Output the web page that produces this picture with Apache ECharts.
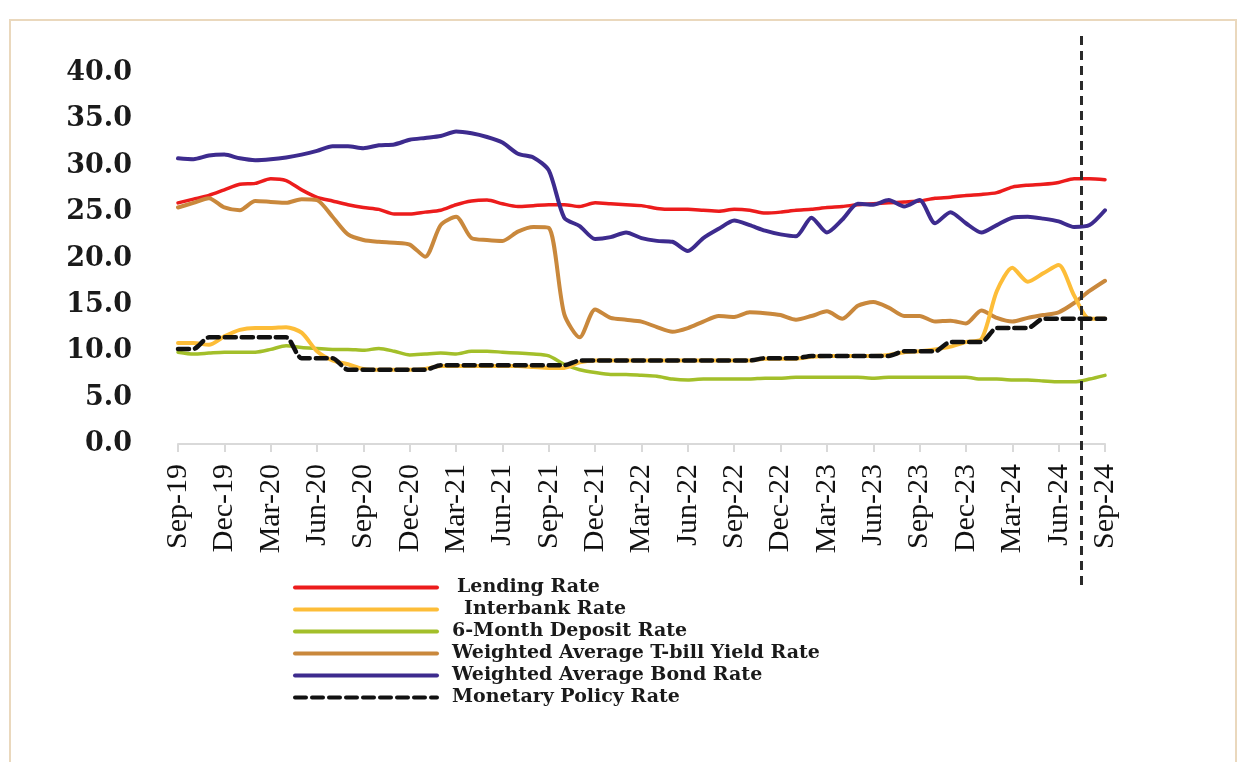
<!DOCTYPE html>
<html>
<head>
<meta charset="utf-8">
<script src="https://cdn.jsdelivr.net/npm/echarts@6/dist/echarts.min.js"></script>
<style>
  html, body { margin: 0; padding: 0; background: #ffffff; }
  #frame { position: absolute; left: 9px; top: 19px; width: 1228px; height: 800px; border: 2px solid #ead8bd; box-sizing: border-box; }
  #chart { position: absolute; left: 0; top: 0; width: 1245px; height: 762px; }
</style>
</head>
<body>
<div id="frame"></div>
<div id="chart"></div>
<script>
// Monthly observations, Sep-2019 to Sep-2024
const months = [
  'Sep-19','Oct-19','Nov-19','Dec-19','Jan-20','Feb-20','Mar-20','Apr-20','May-20','Jun-20','Jul-20','Aug-20',
  'Sep-20','Oct-20','Nov-20','Dec-20','Jan-21','Feb-21','Mar-21','Apr-21','May-21','Jun-21','Jul-21','Aug-21',
  'Sep-21','Oct-21','Nov-21','Dec-21','Jan-22','Feb-22','Mar-22','Apr-22','May-22','Jun-22','Jul-22','Aug-22',
  'Sep-22','Oct-22','Nov-22','Dec-22','Jan-23','Feb-23','Mar-23','Apr-23','May-23','Jun-23','Jul-23','Aug-23',
  'Sep-23','Oct-23','Nov-23','Dec-23','Jan-24','Feb-24','Mar-24','Apr-24','May-24','Jun-24','Jul-24','Aug-24',
  'Sep-24'
];

const lendingRate = [
  26.0, 26.4, 26.8, 27.4, 28.0, 28.1, 28.6, 28.4, 27.4, 26.6, 26.2, 25.8,
  25.5, 25.3, 24.8, 24.8, 25.0, 25.2, 25.8, 26.2, 26.3, 25.9, 25.6, 25.7,
  25.8, 25.8, 25.6, 26.0, 25.9, 25.8, 25.7, 25.4, 25.3, 25.3, 25.2, 25.1,
  25.3, 25.2, 24.9, 25.0, 25.2, 25.3, 25.5, 25.6, 25.8, 25.9, 26.0, 26.1,
  26.2, 26.5, 26.6, 26.8, 26.9, 27.1, 27.7, 27.9, 28.0, 28.2, 28.6, 28.6,
  28.5
];

const interbankRate = [
  10.9, 10.9, 10.7, 11.6, 12.3, 12.5, 12.5, 12.6, 12.0, 10.0, 9.0, 8.6,
  8.1, 8.0, 8.0, 8.0, 8.1, 8.4, 8.4, 8.4, 8.4, 8.4, 8.4, 8.3,
  8.2, 8.2, 8.8, 9.0, 9.0, 9.0, 9.0, 9.0, 9.0, 9.0, 9.0, 9.0,
  9.0, 9.0, 9.2, 9.2, 9.2, 9.4, 9.5, 9.5, 9.5, 9.5, 9.6, 9.9,
  10.0, 10.2, 10.5, 11.0, 11.3, 16.5, 19.0, 17.5, 18.4, 19.3, 16.0, 13.5,
  13.5
];

const depositRate6M = [
  9.9, 9.7, 9.8, 9.9, 9.9, 9.9, 10.2, 10.6, 10.4, 10.3, 10.2, 10.2,
  10.1, 10.3, 10.0, 9.6, 9.7, 9.8, 9.7, 10.0, 10.0, 9.9, 9.8, 9.7,
  9.5, 8.6, 8.0, 7.7, 7.5, 7.5, 7.4, 7.3, 7.0, 6.9, 7.0, 7.0,
  7.0, 7.0, 7.1, 7.1, 7.2, 7.2, 7.2, 7.2, 7.2, 7.1, 7.2, 7.2,
  7.2, 7.2, 7.2, 7.2, 7.0, 7.0, 6.9, 6.9, 6.8, 6.7, 6.7, 7.0,
  7.4
];

const tbillYield = [
  25.5, 26.0, 26.5, 25.5, 25.2, 26.2, 26.1, 26.0, 26.4, 26.3, 24.5, 22.6,
  22.0, 21.8, 21.7, 21.5, 20.2, 23.6, 24.5, 22.2, 22.0, 21.9, 22.9, 23.4,
  23.3, 14.0, 11.5, 14.5, 13.6, 13.4, 13.2, 12.6, 12.1, 12.5, 13.2, 13.8,
  13.7, 14.2, 14.1, 13.9, 13.4, 13.8, 14.3, 13.5, 14.9, 15.3, 14.7, 13.8,
  13.8, 13.2, 13.3, 13.0, 14.4, 13.6, 13.2, 13.6, 13.9, 14.2, 15.2, 16.5,
  17.6
];

const bondRate = [
  30.8, 30.7, 31.1, 31.2, 30.8, 30.6, 30.7, 30.9, 31.2, 31.6, 32.1, 32.1,
  31.9, 32.2, 32.3, 32.8, 33.0, 33.2, 33.7, 33.5, 33.1, 32.5, 31.3, 30.9,
  29.5, 24.4, 23.5, 22.1, 22.3, 22.8, 22.2, 21.9, 21.8, 20.8, 22.2, 23.2,
  24.1, 23.6, 23.0, 22.6, 22.4, 24.4, 22.8, 24.2, 25.9, 25.8, 26.3, 25.6,
  26.3, 23.8, 25.0, 23.8, 22.8, 23.6, 24.4, 24.5, 24.3, 24.0, 23.4, 23.6,
  25.2
];

const policyRate = [
  10.25, 10.25, 11.5, 11.5, 11.5, 11.5, 11.5, 11.5, 9.25, 9.25, 9.25, 8.0,
  8.0, 8.0, 8.0, 8.0, 8.0, 8.5, 8.5, 8.5, 8.5, 8.5, 8.5, 8.5,
  8.5, 8.5, 9.0, 9.0, 9.0, 9.0, 9.0, 9.0, 9.0, 9.0, 9.0, 9.0,
  9.0, 9.0, 9.25, 9.25, 9.25, 9.5, 9.5, 9.5, 9.5, 9.5, 9.5, 10.0,
  10.0, 10.0, 11.0, 11.0, 11.0, 12.5, 12.5, 12.5, 13.5, 13.5, 13.5, 13.5,
  13.5
];

// Vertical reference marker, in months counted from Sep-19 (mid Jul-24)
const markerMonth = 58.45;

const seriesNames = [
  'Lending Rate',
  'Interbank Rate',
  '6-Month Deposit Rate',
  'Weighted Average T-bill Yield Rate',
  'Weighted Average Bond Rate',
  'Monetary Policy Rate'
];
// extra indent (px) before some legend labels
const legendIndent = { 'Lending Rate': 15, 'Interbank Rate': 22 };

const chart = echarts.init(document.getElementById('chart'), null, { renderer: 'canvas' });

function lineSeries(name, data, color, width, z, dash) {
  return {
    name: name,
    type: 'line',
    data: data,
    xAxisIndex: 0,
    yAxisIndex: 0,
    symbol: 'none',
    smooth: 0.25,
    z: z,
    lineStyle: { color: color, width: width, type: dash || 'solid', cap: 'round', join: 'round' },
    itemStyle: { color: color }
  };
}

const labelFont = { color: '#1a1a1a', fontFamily: 'DejaVu Serif', fontWeight: 'bold', fontSize: 19, lineHeight: 19 };

const option = {
  animation: false,
  backgroundColor: 'transparent',
  grid: [
    { left: 178, right: 140, top: 73, bottom: 318 },
    { left: 178, right: 140, top: 30, bottom: 177 }
  ],
  xAxis: [
    {
      type: 'category',
      gridIndex: 0,
      data: months,
      boundaryGap: false,
      axisLine: { show: true, lineStyle: { color: '#d9d9d9', width: 2 } },
      axisTick: { show: true, interval: 2, length: 8, lineStyle: { color: '#d9d9d9', width: 2 } },
      axisLabel: {
        interval: 2,
        rotate: 90,
        margin: 20,
        color: '#111111',
        fontFamily: 'Liberation Serif',
        fontSize: 30
      },
      splitLine: { show: false }
    },
    {
      type: 'value',
      gridIndex: 1,
      min: 0,
      max: months.length - 1,
      show: false
    }
  ],
  yAxis: [
    {
      type: 'value',
      gridIndex: 0,
      min: 0,
      max: 40,
      interval: 5,
      axisLine: { show: false },
      axisTick: { show: false },
      splitLine: { show: false },
      axisLabel: {
        margin: 46,
        color: '#1a1a1a',
        fontFamily: 'DejaVu Serif',
        fontWeight: 'bold',
        fontSize: 27,
        formatter: function (v) { return v.toFixed(1); }
      }
    },
    {
      type: 'value',
      gridIndex: 1,
      min: 0,
      max: 1,
      show: false
    }
  ],
  legend: {
    data: seriesNames,
    orient: 'vertical',
    left: 293,
    top: 578,
    padding: 0,
    itemWidth: 142,
    itemHeight: 14,
    itemGap: 3,
    itemStyle: { opacity: 0 },
    lineStyle: { width: 4 },
    textStyle: {
      color: '#1a1a1a',
      fontFamily: 'DejaVu Serif',
      fontWeight: 'bold',
      fontSize: 19,
      lineHeight: 19,
      rich: {
        p0: { width: 10 },
        p15: { width: 15 },
        p22: { width: 22 },
        t: labelFont
      }
    },
    formatter: function (name) {
      const pad = legendIndent[name] || 10;
      return '{p' + (pad === 10 ? 0 : pad) + '|}{t|' + name + '}';
    },
    selectedMode: false
  },
  series: [
    lineSeries('Lending Rate', lendingRate, '#ec1c1c', 3.5, 3),
    lineSeries('Interbank Rate', interbankRate, '#fdbd38', 4, 4),
    lineSeries('6-Month Deposit Rate', depositRate6M, '#a3bf2a', 3.5, 3),
    lineSeries('Weighted Average T-bill Yield Rate', tbillYield, '#c9883c', 4, 3),
    lineSeries('Weighted Average Bond Rate', bondRate, '#3d2b8e', 4, 3),
    lineSeries('Monetary Policy Rate', policyRate, '#111111', 4.5, 5, [11, 6]),
    {
      name: 'marker',
      type: 'line',
      xAxisIndex: 1,
      yAxisIndex: 1,
      data: [[markerMonth, 0]],
      symbol: 'none',
      lineStyle: { width: 0 },
      silent: true,
      z: 6,
      markLine: {
        symbol: 'none',
        silent: true,
        label: { show: false },
        lineStyle: { color: '#2a2a2a', width: 3, type: [9, 6] },
        data: [{ xAxis: markerMonth }]
      }
    }
  ]
};

chart.setOption(option);
</script>
</body>
</html>
